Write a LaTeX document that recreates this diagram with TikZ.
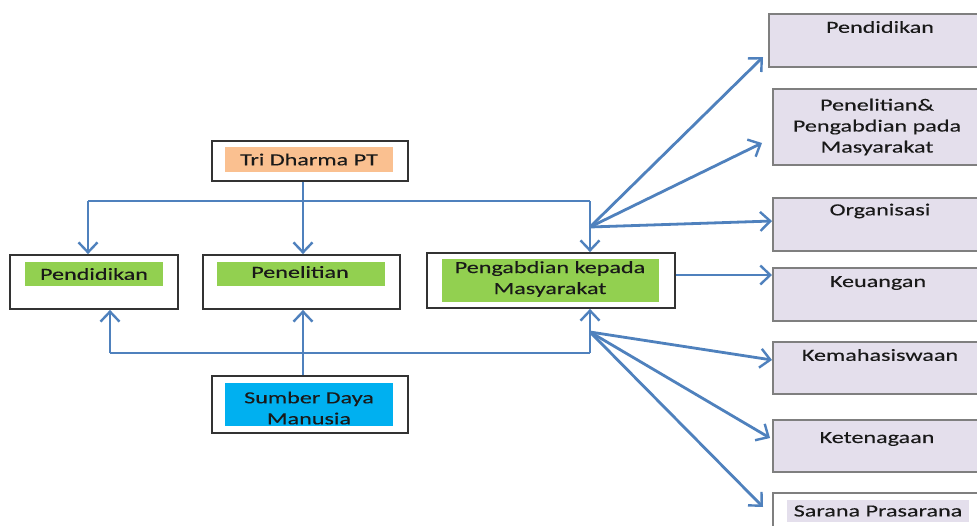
\documentclass[tikz,border=0pt]{standalone}
\usepackage{fontspec}
\setmainfont{Carlito}[FakeStretch=1.42,FakeBold=0.2]
\usetikzlibrary{arrows.meta,calc}
\definecolor{lnblue}{HTML}{4F81BD}
\definecolor{orangefill}{HTML}{FAC090}
\definecolor{greenfill}{HTML}{92D050}
\definecolor{cyanfill}{HTML}{00B0F0}
\definecolor{lavfill}{HTML}{E4DFEC}
\definecolor{boxgray}{HTML}{7F7F7F}
\tikzset{
  outerbox/.style={draw=black!80, line width=1.8pt, fill=white, inner sep=0pt},
  innerfill/.style={inner sep=0pt, align=center, text=black!90, font=\fontsize{17}{21}\selectfont},
  rbox/.style={draw=boxgray, line width=1.8pt, fill=lavfill, inner sep=0pt, anchor=north west, minimum width=218pt},
  rtext/.style={inner sep=0pt, align=center, text=black!90, font=\fontsize{17}{21}\selectfont},
  conn/.style={draw=lnblue, line width=2.8pt, -{Straight Barb[length=10pt,width=19pt,line width=2.4pt]}},
  line/.style={draw=lnblue, line width=2.8pt}
}
\begin{document}
\begin{tikzpicture}[x=1pt,y=-1pt]
\useasboundingbox (0,0) rectangle (977,525);
\clip (0,0) rectangle (977,525);
\fill[white] (0,0) rectangle (977,525);

% left-side boxes
\node[outerbox, minimum width=196pt, minimum height=40pt] (tri) at (310,161) {};
\node[innerfill, fill=orangefill, minimum width=168pt, minimum height=25pt] (tritxt) at (309,159.5) {Tri Dharma PT};

\node[outerbox, minimum width=168pt, minimum height=54pt] (pend) at (94,282) {};
\node[innerfill, fill=greenfill, minimum width=138pt, minimum height=24pt] (pendtxt) at (94,274) {Pendidikan};

\node[outerbox, minimum width=197pt, minimum height=54pt] (pen) at (301.5,282) {};
\node[innerfill, fill=greenfill, minimum width=168pt, minimum height=24pt] (pentxt) at (301,274) {};
\node[rtext] at (300,272) {Penelitian};

\node[outerbox, minimum width=248pt, minimum height=55pt] (peng) at (551,280.5) {};
\node[innerfill, fill=greenfill, minimum width=217pt, minimum height=43pt] (pengtxt) at (550.5,280.5) {};
\node[rtext] at (550,279) {Pengabdian kepada\\Masyarakat};

\node[outerbox, minimum width=196pt, minimum height=57pt] (sdm) at (310,404.5) {};
\node[innerfill, fill=cyanfill, minimum width=168pt, minimum height=43pt] (sdmtxt) at (309,404.5) {};
\node[rtext] at (309,408) {Sumber Daya\\Manusia};

% right-side boxes
\node[rbox, minimum height=53pt] (r1) at (768,13) {};
\node[rtext] at (880,27) {Pendidikan};
\node[rbox, minimum height=76pt] (r2) at (772,88) {};
\node[rtext] at (877,127) {Penelitian\&\\Pengabdian pada\\Masyarakat};
\node[rbox, minimum height=53pt] (r3) at (772,197) {};
\node[rtext] at (880,211) {Organisasi};
\node[rbox, minimum height=53pt] (r4) at (772,267) {};
\node[rtext] at (878,283) {Keuangan};
\node[rbox, minimum height=52pt] (r5) at (772,341) {};
\node[rtext] at (880,355) {Kemahasiswaan};
\node[rbox, minimum height=52pt] (r6) at (772,419) {};
\node[rtext] at (877,439) {Ketenagaan};
\node[rbox, fill=white, minimum height=45pt] (r7) at (772,492) {};
\node[innerfill, fill=lavfill, minimum width=182pt, minimum height=22pt] (r7txt) at (878,511) {Sarana Prasarana};

% junction coordinates
\coordinate (jtl) at (88,201);
\coordinate (jtr) at (590,201);
\coordinate (jbl) at (110,353);
\coordinate (jbr) at (590,353);
\coordinate (fanA) at (590,227);
\coordinate (fanB) at (590,332);
\coordinate (e1) at (763,57);
\coordinate (e2) at (762,143);
\coordinate (e3) at (772,221);
\coordinate (e5) at (772,360);
\coordinate (e6) at (770,438);
\coordinate (e7) at (763,507);

% top connectors
\draw[conn] (tri.south -| 303,0) -- (pen.north -| 303,0);
\draw[line] (jtl) -- (jtr);
\draw[conn] (jtl) -- (jtl |- pend.north);
\draw[conn] (jtr) -- (jtr |- peng.north);

% bottom connectors
\draw[conn] (sdm.north -| 303,0) -- (pen.south -| 303,0);
\draw[line] (jbl) -- (jbr);
\draw[conn] (jbl) -- (jbl |- pend.south);
\draw[conn] (jbr) -- (jbr |- peng.south);

% fans
\draw[conn] (fanA) -- (e1);
\draw[conn] (fanA) -- (e2);
\draw[conn] (fanA) -- (e3);
\draw[conn] (peng.east |- 0,275) -- (r4.west |- 0,275);
\draw[conn] (fanB) -- (e5);
\draw[conn] (fanB) -- (e6);
\draw[conn] (fanB) -- (e7);
\end{tikzpicture}
\end{document}
